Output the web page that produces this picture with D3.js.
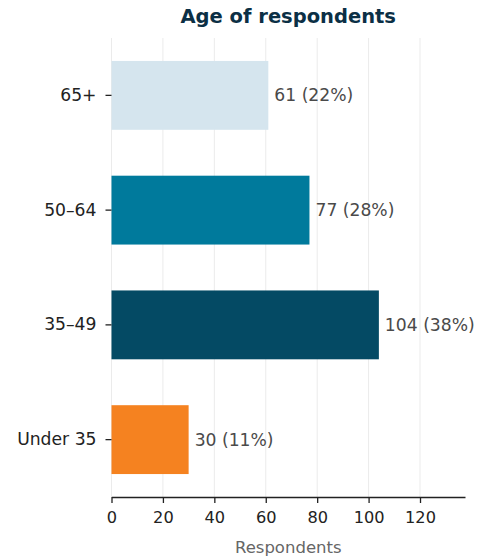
<!DOCTYPE html>
<html><head><meta charset="utf-8">
<script src="https://cdn.jsdelivr.net/npm/d3@7"></script>
<style>
body{margin:0;background:#fff;}
svg{display:block;font-family:"DejaVu Sans",sans-serif;}
</style></head>
<body>
<svg id="chart" width="480" height="560"></svg>
<script>
const categories = ["65+", "50–64", "35–49", "Under 35"];
const counts = [61, 77, 104, 30];
const percents = ["22%", "28%", "38%", "11%"];
const colors = ["#d5e5ee", "#007a9c", "#044a64", "#f58220"];
const xTicks = [0, 20, 40, 60, 80, 100, 120];

const svg = d3.select("#chart");
const m = {left: 111.5, right: 15, top: 38, bottom: 63};
const W = 480, H = 560;
const x = d3.scaleLinear().domain([0, 137.5]).range([m.left, W - m.right]);
const y = d3.scaleBand().domain(categories).range([m.top, H - m.bottom]).paddingInner(0.4).paddingOuter(0.2);

// gridlines
svg.append("g").selectAll("line").data(xTicks).join("line")
  .attr("x1", d => x(d)).attr("x2", d => x(d))
  .attr("y1", m.top).attr("y2", H - m.bottom)
  .attr("stroke", "#ebebeb").attr("stroke-width", 1);

// bars
svg.append("g").selectAll("rect").data(categories).join("rect")
  .attr("x", x(0)).attr("y", d => y(d))
  .attr("width", (d, i) => x(counts[i]) - x(0))
  .attr("height", y.bandwidth())
  .attr("fill", (d, i) => colors[i]);

// value labels
svg.append("g").selectAll("text").data(categories).join("text")
  .attr("x", (d, i) => x(counts[i]) + 6)
  .attr("y", d => y(d) + y.bandwidth() / 2)
  .attr("dy", "0.35em")
  .attr("fill", "#4a4a4a").attr("font-size", 17.2)
  .text((d, i) => `${counts[i]} (${percents[i]})`);

// x axis
const xAxis = svg.append("g").attr("transform", `translate(0,${H - m.bottom})`)
  .call(d3.axisBottom(x).tickValues(xTicks).tickSize(6).tickPadding(8).tickSizeOuter(0));
xAxis.select(".domain").attr("stroke", "#222").attr("stroke-width", 1.3);
xAxis.selectAll(".tick line").attr("stroke", "#222").attr("stroke-width", 1.3);
xAxis.selectAll(".tick text").attr("font-size", 16.2).attr("fill", "#222").attr("font-family", "DejaVu Sans");

// y axis (ticks only)
const yAxis = svg.append("g").attr("transform", `translate(${m.left},0)`)
  .call(d3.axisLeft(y).tickSize(6).tickPadding(9));
yAxis.select(".domain").remove();
yAxis.selectAll(".tick line").attr("stroke", "#222").attr("stroke-width", 1.3);
yAxis.selectAll(".tick text").attr("font-size", 17.2).attr("fill", "#222").attr("font-family", "DejaVu Sans");

// axis title
svg.append("text").attr("x", (m.left + W - m.right) / 2).attr("y", 553)
  .attr("text-anchor", "middle").attr("fill", "#666").attr("font-size", 16.5)
  .text("Respondents");

// title
svg.append("text").attr("x", (m.left + W - m.right) / 2).attr("y", 23)
  .attr("text-anchor", "middle").attr("fill", "#0b2f45").attr("font-size", 19.5)
  .attr("font-weight", "bold").text("Age of respondents");
</script>
</body></html>
